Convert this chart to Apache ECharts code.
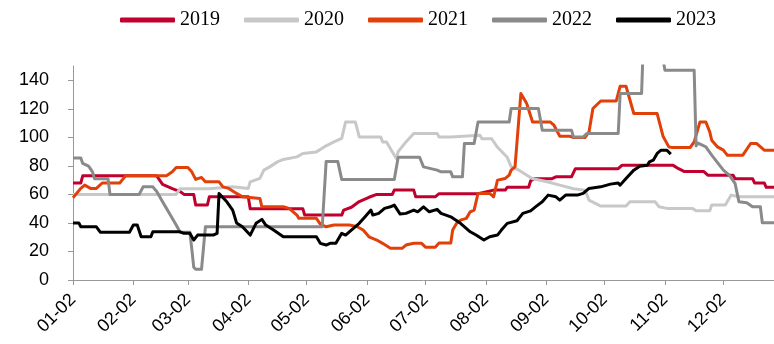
<!DOCTYPE html>
<html>
<head>
<meta charset="utf-8">
<script src="https://cdn.jsdelivr.net/npm/echarts@6/dist/echarts.min.js"></script>
<style>
html,body{margin:0;padding:0;background:#fff;}
#chart{width:774px;height:344px;}
</style>
</head>
<body>
<div id="chart"></div>
<script>
// ---- data ----
const monthLengths = [31,28,31,30,31,30,31,31,30,31,30,31];
const firstDay = '01-02';
const lastDay = '12-28';
const yTicks = [0,20,40,60,80,100,120,140];
const seriesNames = ['2019','2020','2021','2022','2023'];

const s2019 = [['01-02',68],['01-06',68],['01-07',73],['02-14',73],['02-17',67],['02-22',64],['02-26',62],['02-28',60],['03-05',60],['03-06',52.5],['03-12',52.5],['03-13',58.3],['04-02',58.3],['04-03',50],['04-30',50],['05-01',45.5],['05-20',45.5],['05-21',49],['05-25',51],['05-29',55],['06-03',58],['06-07',60],['06-15',60],['06-16',63],['06-26',63],['06-27',58.3],['07-07',58.3],['07-09',60.5],['07-29',60.5],['08-06',63],['08-12',63],['08-13',65],['08-24',65],['08-25',69.5],['08-27',71],['09-05',71],['09-07',72.3],['09-15',72.3],['09-17',78],['10-09',78],['10-11',80.5],['11-06',80.5],['11-09',78],['11-12',76],['11-22',76],['11-24',73.5],['12-07',73.5],['12-08',71],['12-17',71],['12-18',68],['12-23',68],['12-24',65],['12-28',65]];

const s2020 = [['01-02',60],['02-24',60],['02-26',64],['03-13',64],['03-14',65.3],['03-25',65.3],['03-26',64.2],['04-02',64.2],['04-03',68.8],['04-08',71.2],['04-10',77],['04-13',79.3],['04-17',82.8],['04-20',84.5],['04-27',86.3],['04-30',88.7],['05-07',89.8],['05-11',93.3],['05-16',96.8],['05-20',99.2],['05-22',110.8],['05-27',110.8],['05-29',100.3],['06-09',100.3],['06-10',96.8],['06-12',96.8],['06-17',85.2],['06-18',90],['06-22',96.8],['06-26',102.7],['07-08',102.7],['07-09',100.3],['07-15',100.3],['07-16',101.5],['07-30',101.5],['07-31',99],['08-05',99],['08-08',93],['08-13',86],['08-15',79.5],['08-19',77],['08-26',71],['09-02',69],['09-09',66.5],['09-16',64],['09-22',63],['09-24',56],['09-30',51.8],['10-13',51.8],['10-15',54.8],['10-28',54.8],['10-30',51.3],['11-03',50.2],['11-16',50.2],['11-18',48.5],['11-25',48.5],['11-26',52.5],['12-03',52.5],['12-06',59.5],['12-10',58.3],['12-28',58.3]];

const s2021 = [['01-02',57.6],['01-06',64.2],['01-08',66.5],['01-11',64.2],['01-14',64.2],['01-17',68],['01-26',68],['01-29',73],['02-19',73],['02-22',75.8],['02-24',78.8],['03-02',78.8],['03-04',75.8],['03-06',70.5],['03-09',71.9],['03-11',68.8],['03-18',68.8],['03-20',65.3],['03-23',64.2],['03-27',60.7],['03-30',58.3],['04-08',57.2],['04-09',51.3],['04-20',51.3],['04-21',50.2],['04-23',50.2],['04-27',45.5],['04-28',43.2],['05-07',43.2],['05-09',39.2],['05-12',37.3],['05-16',38.5],['05-24',38.5],['05-28',37.3],['05-31',35],['06-03',30.3],['06-07',28],['06-10',25.7],['06-14',22.2],['06-20',22.2],['06-22',24.5],['06-26',25.7],['06-30',25.7],['07-02',23],['07-07',23],['07-09',26],['07-15',26],['07-16',35],['07-18',39.7],['07-20',42],['07-23',43.2],['07-25',47.8],['07-27',49],['07-29',60.7],['08-04',60.7],['08-06',58.3],['08-08',70],['08-12',71.2],['08-14',73.5],['08-15',77],['08-17',79.3],['08-20',130.7],['08-23',123.7],['08-26',110.8],['09-04',110.8],['09-06',108.5],['09-09',100.8],['09-14',100.8],['09-16',99.9],['09-22',99.9],['09-24',103.8],['09-26',120.2],['09-30',125.5],['10-08',125.5],['10-10',135.8],['10-13',135.8],['10-17',116.7],['10-29',116.7],['11-01',100.8],['11-04',93.3],['11-06',92.9],['11-15',92.9],['11-17',96.8],['11-20',110.8],['11-23',110.8],['11-25',103.8],['11-26',98],['11-29',93.3],['12-02',91],['12-04',87.5],['12-12',87.5],['12-16',95.7],['12-19',95.7],['12-23',91],['12-28',91]];

const s2022 = [['01-02',85.6],['01-06',85.6],['01-07',81.7],['01-10',79.8],['01-12',75.8],['01-13',71],['01-20',71],['01-21',60],['02-05',60],['02-07',65.3],['02-12',65.3],['02-14',62],['02-17',54.8],['02-19',50.2],['02-21',45.5],['02-24',38.5],['02-26',33.5],['03-03',33.5],['03-04',22],['03-05',9],['03-06',7.5],['03-09',7.5],['03-11',37.3],['05-10',37.3],['05-12',83],['05-18',83],['05-20',70.5],['06-16',70.5],['06-18',86],['06-29',86],['07-01',79.3],['07-08',77],['07-10',75.8],['07-15',75.8],['07-16',72.3],['07-21',72.3],['07-22',95.7],['07-27',95.7],['07-29',110.8],['08-14',110.8],['08-15',120.2],['08-29',120.2],['08-31',105],['09-15',105],['09-16',100.3],['09-21',100.3],['09-23',102.7],['10-09',102.7],['10-10',130.7],['10-21',130.7],['10-22',170],['10-30',170],['11-02',147],['11-17',147],['11-18',94],['11-19',96],['11-23',93.3],['11-26',87.5],['11-28',84],['12-02',77],['12-05',73.5],['12-08',67.7],['12-10',54.8],['12-14',54.1],['12-17',51.3],['12-21',51.3],['12-22',40.1],['12-28',40.1]];

const s2023 = [['01-02',40],['01-05',40],['01-06',37.3],['01-14',37.3],['01-16',33.5],['01-31',33.5],['02-02',38.5],['02-04',38.5],['02-06',30.3],['02-11',30.3],['02-12',33.8],['02-26',33.8],['02-28',32.7],['03-03',32.7],['03-05',28],['03-06',28],['03-07',31.5],['03-15',31.5],['03-17',32.7],['03-18',60.7],['03-22',54.8],['03-25',49],['03-27',40],['03-30',37.3],['04-03',31.5],['04-06',39.7],['04-09',42.5],['04-11',38.5],['04-15',35],['04-20',30.3],['05-07',30.3],['05-09',25.7],['05-12',24.5],['05-14',25.7],['05-17',25.7],['05-20',32.7],['05-22',31.5],['05-26',36.2],['05-29',39.7],['06-01',44.3],['06-04',49],['06-05',45.5],['06-08',46.7],['06-11',50.2],['06-14',51.3],['06-16',52.5],['06-19',46.2],['06-22',46.7],['06-26',49],['06-28',47.8],['07-01',51.3],['07-04',47.8],['07-08',49.5],['07-10',46.7],['07-15',44.3],['07-20',39.7],['07-25',33.8],['07-28',31.5],['08-01',28],['08-04',30.3],['08-08',31.5],['08-10',35],['08-13',39.7],['08-18',41.5],['08-21',46.7],['08-25',48.5],['08-28',51.8],['08-31',54.8],['09-03',59.5],['09-07',58.3],['09-09',56],['09-12',59.5],['09-18',59.5],['09-21',60.7],['09-24',64.2],['09-30',65.3],['10-05',67.2],['10-09',68],['10-10',66.5],['10-13',71.2],['10-17',77],['10-20',79.8],['10-24',80.5],['10-25',82.8],['10-27',84],['10-29',88.7],['10-31',91],['11-03',91],['11-05',88.2]];

// ---- daily categories (MM-DD) ----
const categories = [];
(function () {
  let on = false;
  for (let m = 1; m <= 12; m++) {
    for (let d = 1; d <= monthLengths[m - 1]; d++) {
      const s = String(m).padStart(2, '0') + '-' + String(d).padStart(2, '0');
      if (s === firstDay) on = true;
      if (on) categories.push(s);
      if (s === lastDay) return;
    }
  }
})();

const colors = ['#C0002F', '#C8C8C8', '#E2400A', '#8A8A8A', '#000000'];
const allData = [s2019, s2020, s2021, s2022, s2023];

const chart = echarts.init(document.getElementById('chart'), null, { renderer: 'canvas' });
const isMonthTick = (idx, val) => /-02$/.test(val);

chart.setOption({
  animation: false,
  backgroundColor: '#fff',
  legend: {
    data: seriesNames,
    left: 115,
    top: 5,
    icon: 'roundRect',
    itemWidth: 55,
    itemHeight: 5,
    itemGap: 24,
    textStyle: { fontFamily: 'Liberation Serif', fontSize: 20, color: '#000' }
  },
  grid: { left: 73, right: 0, top: 66, bottom: 64, containLabel: false },
  xAxis: {
    type: 'category',
    data: categories,
    boundaryGap: false,
    axisLine: { show: true, lineStyle: { color: '#999', width: 1 } },
    axisTick: { show: true, interval: isMonthTick, length: 5, lineStyle: { color: '#999' } },
    axisLabel: {
      interval: isMonthTick,
      rotate: 45,
      margin: 17,
      fontFamily: 'Liberation Sans',
      fontSize: 18,
      color: '#000'
    },
    splitLine: { show: false }
  },
  yAxis: {
    type: 'value',
    min: 0,
    max: 150,
    interval: 10,
    axisLine: { show: true, lineStyle: { color: '#999', width: 1 } },
    axisTick: { show: true, length: 5, customValues: yTicks, lineStyle: { color: '#999' } },
    axisLabel: {
      customValues: yTicks,
      margin: 24,
      fontFamily: 'Liberation Sans',
      fontSize: 18,
      color: '#000'
    },
    splitLine: { show: false }
  },
  series: seriesNames.map((name, i) => ({
    name: name,
    type: 'line',
    data: allData[i],
    showSymbol: false,
    symbol: 'none',
    smooth: false,
    clip: true,
    lineStyle: { color: colors[i], width: 3, join: 'round' },
    itemStyle: { color: colors[i] }
  }))
});
</script>
</body>
</html>
